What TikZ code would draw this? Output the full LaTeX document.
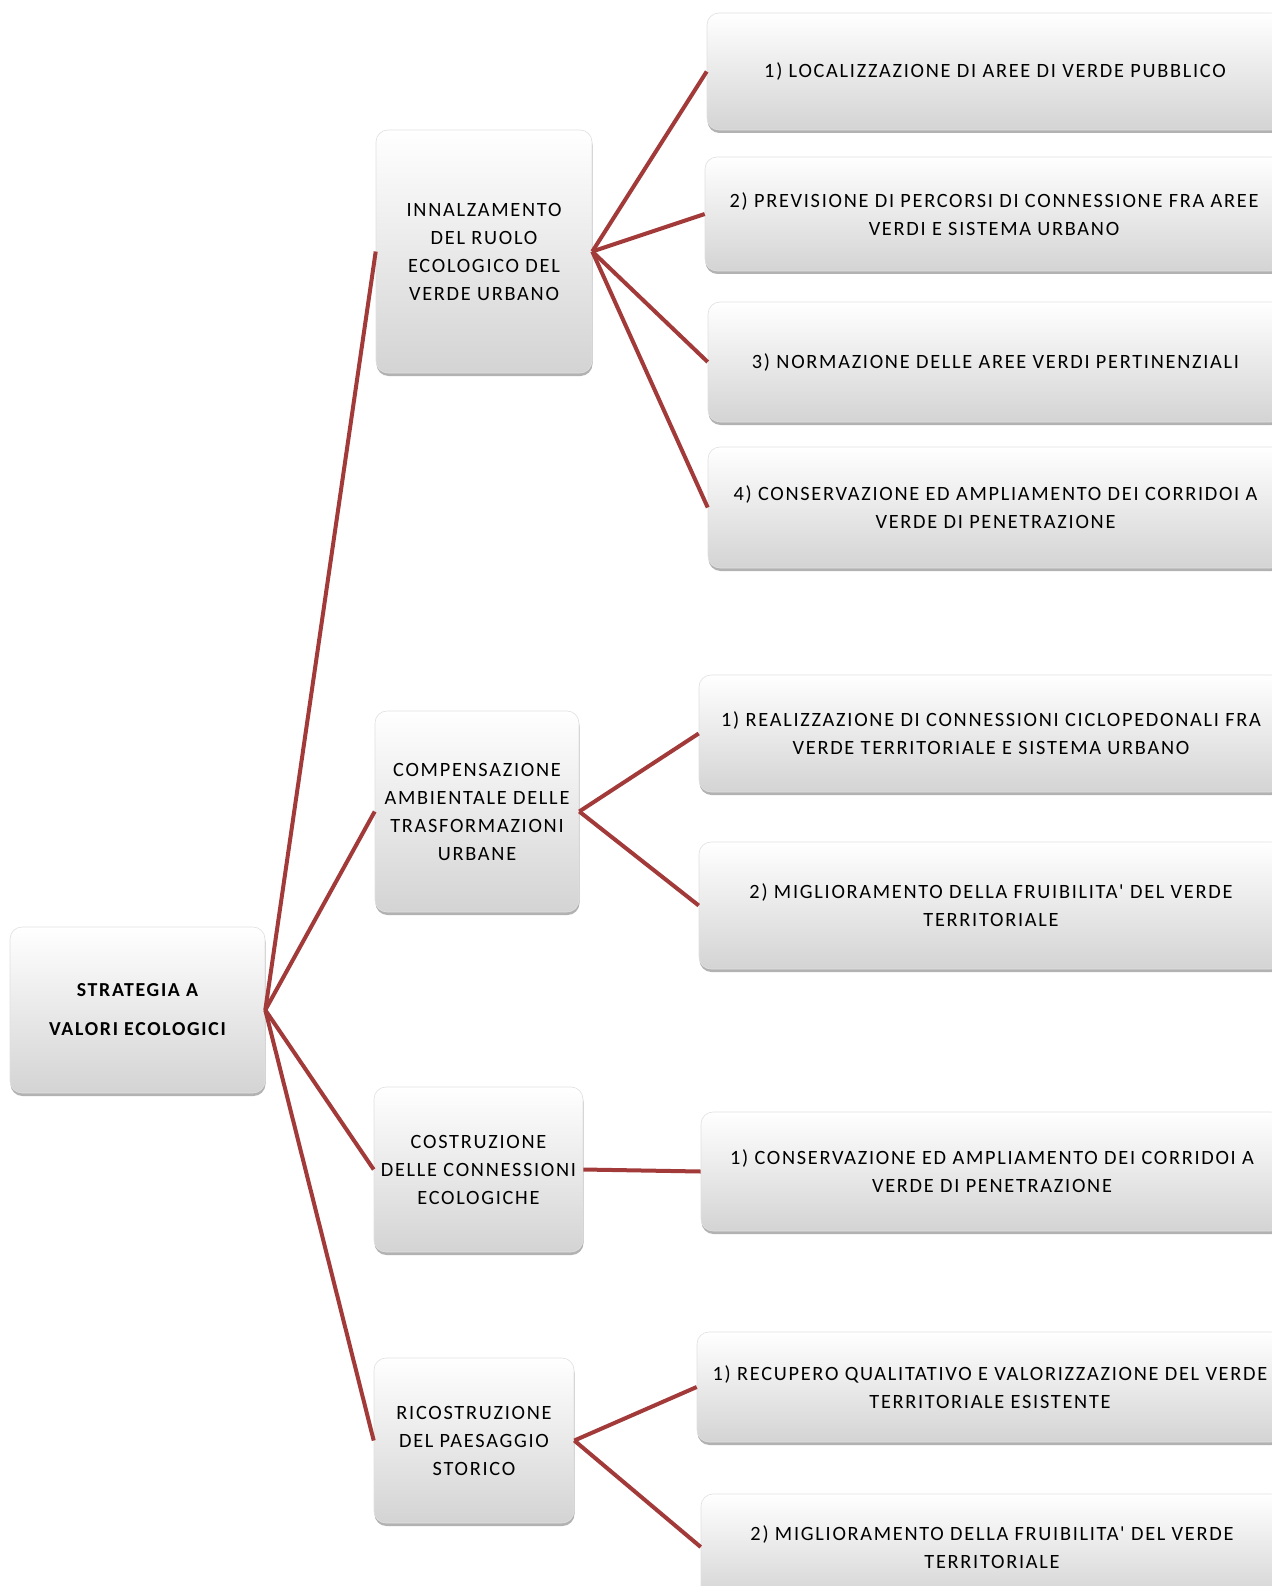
\documentclass[tikz,border=0pt]{standalone}
\usepackage{fontspec}
\setmainfont{Carlito}[Ligatures=TeXOff, LetterSpace=8.5]
\usetikzlibrary{shadows}
\definecolor{linkred}{HTML}{A33A3A}
\tikzset{
  box/.style={rectangle, rounded corners=12pt, draw=black!12, line width=0.6pt,
    top color=white, bottom color=black!17, align=center, inner sep=4pt,
    drop shadow={shadow xshift=0.5pt, shadow yshift=-3pt, opacity=0.55, fill=black!55},
    font=\fontsize{20.3}{28}\selectfont},
  rootbox/.style={box, font=\fontsize{19.8}{39}\selectfont\bfseries},
  link/.style={draw=linkred, line width=4pt}
}
\begin{document}
\begin{tikzpicture}[x=1pt,y=-1pt]
\useasboundingbox (0,0) rectangle (1271,1586);
\fill[white] (0,0) rectangle (1271,1586);
% root
\node[rootbox, minimum width=255pt, minimum height=166pt] (root) at (137.5,1010) {STRATEGIA A\\VALORI ECOLOGICI};
% level 1
\node[box, minimum width=216pt, minimum height=243pt] (A) at (484,251.5) {INNALZAMENTO\\DEL RUOLO\\ECOLOGICO DEL\\VERDE URBANO};
\node[box, minimum width=204pt, minimum height=201pt] (B) at (477,811.5) {COMPENSAZIONE\\AMBIENTALE DELLE\\TRASFORMAZIONI\\URBANE};
\node[box, minimum width=209pt, minimum height=165pt] (C) at (478.5,1169.5) {COSTRUZIONE\\DELLE CONNESSIONI\\ECOLOGICHE};
\node[box, minimum width=200pt, minimum height=165pt] (D) at (474,1440.5) {RICOSTRUZIONE\\DEL PAESAGGIO\\STORICO};
% level 2
\node[box, minimum width=576pt, minimum height=117pt] (A1) at (995,71.5) {1) LOCALIZZAZIONE DI AREE DI VERDE PUBBLICO};
\node[box, minimum width=578pt, minimum height=114pt] (A2) at (994,214) {2) PREVISIONE DI PERCORSI DI CONNESSIONE FRA AREE\\VERDI E SISTEMA URBANO};
\node[box, minimum width=575pt, minimum height=120pt] (A3) at (995.5,362) {3) NORMAZIONE DELLE AREE VERDI PERTINENZIALI};
\node[box, minimum width=575pt, minimum height=121pt] (A4) at (995.5,507.5) {4) CONSERVAZIONE ED AMPLIAMENTO DEI CORRIDOI A\\VERDE DI PENETRAZIONE};
\node[box, minimum width=584pt, minimum height=117pt] (B1) at (991,733.5) {1) REALIZZAZIONE DI CONNESSIONI CICLOPEDONALI FRA\\VERDE TERRITORIALE E SISTEMA URBANO};
\node[box, minimum width=584pt, minimum height=127pt] (B2) at (991,905.5) {2) MIGLIORAMENTO DELLA FRUIBILITA' DEL VERDE\\TERRITORIALE};
\node[box, minimum width=582pt, minimum height=119pt] (C1) at (992,1171.5) {1) CONSERVAZIONE ED AMPLIAMENTO DEI CORRIDOI A\\VERDE DI PENETRAZIONE};
\node[box, minimum width=586pt, minimum height=110pt] (D1) at (990,1387) {1) RECUPERO QUALITATIVO E VALORIZZAZIONE DEL VERDE\\TERRITORIALE ESISTENTE};
\node[box, minimum width=582pt, minimum height=106pt] (D2) at (992,1547) {2) MIGLIORAMENTO DELLA FRUIBILITA' DEL VERDE\\TERRITORIALE};
% connectors
\foreach \t in {A,B,C,D} \draw[link] (root.east) -- (\t.west);
\foreach \t in {A1,A2,A3,A4} \draw[link] (A.east) -- (\t.west);
\foreach \t in {B1,B2} \draw[link] (B.east) -- (\t.west);
\draw[link] (C.east) -- (C1.west);
\foreach \t in {D1,D2} \draw[link] (D.east) -- (\t.west);
\end{tikzpicture}
\end{document}
